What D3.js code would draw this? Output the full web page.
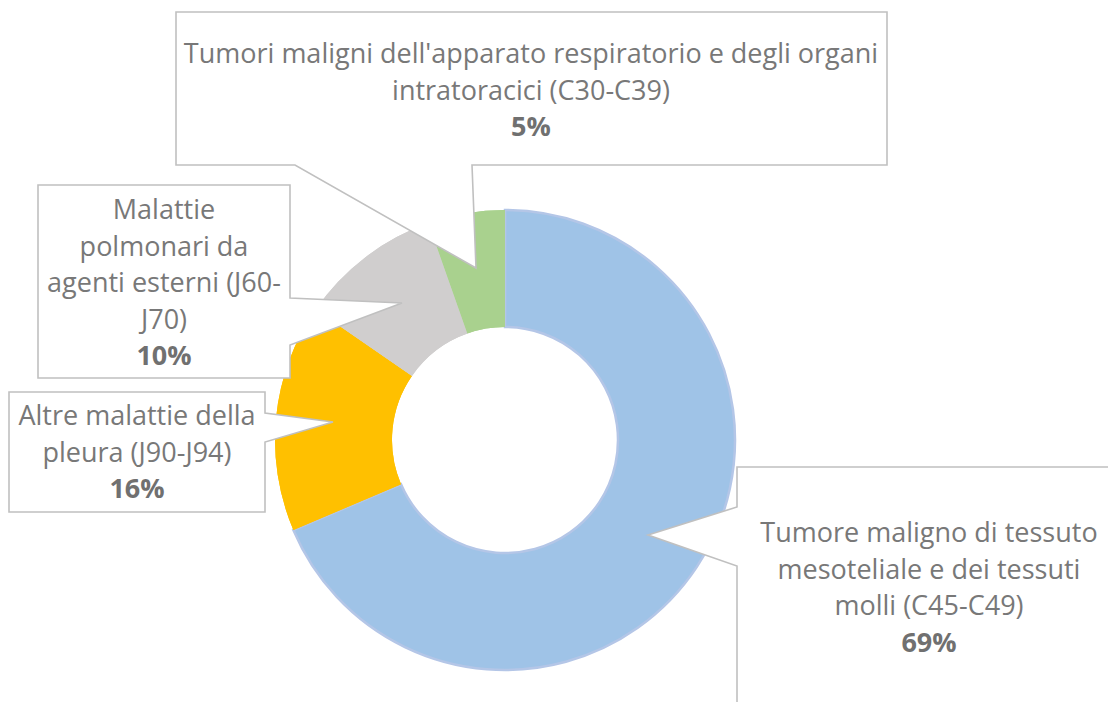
<!DOCTYPE html>
<html>
<head>
<meta charset="utf-8">
<script src="https://cdn.jsdelivr.net/npm/d3@7"></script>
<style>
  html, body { margin: 0; padding: 0; background: #ffffff; }
  svg { display: block; }
  text { font-family: "Open Sans", "Noto Sans", sans-serif; }
</style>
</head>
<body>
<svg id="chart" width="1108" height="702"></svg>
<script>
// ---- data ----
const categories = [
  "Tumore maligno di tessuto mesoteliale e dei tessuti molli (C45-C49)",
  "Altre malattie della pleura (J90-J94)",
  "Malattie polmonari da agenti esterni (J60-J70)",
  "Tumori maligni dell'apparato respiratorio e degli organi intratoracici (C30-C39)"
];
const values = [68.6, 16.0, 10.0, 5.4];
const colors = ["#9fc3e7", "#ffc000", "#d0cece", "#a9d18e"];
const labelLines = [
  ["Tumore maligno di tessuto", "mesoteliale e dei tessuti", "molli (C45-C49)"],
  ["Altre malattie della", "pleura (J90-J94)"],
  ["Malattie", "polmonari da", "agenti esterni (J60-", "J70)"],
  ["Tumori maligni dell'apparato respiratorio e degli organi", "intratoracici (C30-C39)"]
];

// ---- layout ----
const W = 1108, H = 702;
const cx = 505, cy = 440, rOuter = 230, rInner = 113;
const fontSize = 27, lineGap = 36.6;
const textColor = "#787878", boxStroke = "#c0c0c0";

// callout boxes: rect + pointer tip (pointer base on a given side)
const callouts = [
  { x0: 737, y0: 467, x1: 1122, y1: 716, side: "left",  b0: 507, b1: 566, tip: [648, 535], tx: 929, ty: 542 },
  { x0: 9,   y0: 392, x1: 265,  y1: 512, side: "right", b0: 413, b1: 442, tip: [333, 422], tx: 137, ty: 425 },
  { x0: 38,  y0: 185, x1: 290,  y1: 378, side: "right", b0: 298, b1: 345, tip: [402, 303], tx: 164, ty: 219 },
  { x0: 176, y0: 12,  x1: 887,  y1: 165, side: "bottom", b0: 472, b1: 295, tip: [476, 268], tx: 531, ty: 63 }
];

const svg = d3.select("#chart");
const g = svg.append("g").attr("transform", `translate(${cx},${cy})`);

const pie = d3.pie().sort(null).value(d => d)(values);
const arc = d3.arc().innerRadius(rInner).outerRadius(rOuter);

g.selectAll("path.slice")
  .data(pie)
  .join("path")
  .attr("class", "slice")
  .attr("d", arc)
  .attr("fill", (d, i) => colors[i])
  .attr("stroke", (d, i) => i === 0 ? "#b4c6e7" : "none")
  .attr("stroke-width", 2.5);

// redraw non-blue slices on top so blue border only shows on arcs
g.selectAll("path.slice2")
  .data(pie.slice(1))
  .join("path")
  .attr("class", "slice2")
  .attr("d", arc)
  .attr("fill", (d, i) => colors[i + 1]);

// callouts
function calloutPath(c) {
  const p = d3.path();
  if (c.side === "left") {
    p.moveTo(c.x0, c.y0); p.lineTo(c.x1, c.y0); p.lineTo(c.x1, c.y1); p.lineTo(c.x0, c.y1);
    p.lineTo(c.x0, c.b1); p.lineTo(c.tip[0], c.tip[1]); p.lineTo(c.x0, c.b0); p.closePath();
  } else if (c.side === "right") {
    p.moveTo(c.x0, c.y0); p.lineTo(c.x1, c.y0); p.lineTo(c.x1, c.b0); p.lineTo(c.tip[0], c.tip[1]);
    p.lineTo(c.x1, c.b1); p.lineTo(c.x1, c.y1); p.lineTo(c.x0, c.y1); p.closePath();
  } else {
    p.moveTo(c.x0, c.y0); p.lineTo(c.x1, c.y0); p.lineTo(c.x1, c.y1); p.lineTo(c.b0, c.y1);
    p.lineTo(c.tip[0], c.tip[1]); p.lineTo(c.b1, c.y1); p.lineTo(c.x0, c.y1); p.closePath();
  }
  return p.toString();
}

const total = d3.sum(values);
const fmt = v => d3.format(".0f")(v / total * 100) + "%";

callouts.forEach((c, i) => {
  svg.append("path")
    .attr("d", calloutPath(c))
    .attr("fill", "#ffffff")
    .attr("stroke", boxStroke)
    .attr("stroke-width", 1.6)
    .attr("stroke-linejoin", "miter");

  const t = svg.append("text")
    .attr("text-anchor", "middle")
    .attr("font-size", fontSize)
    .attr("fill", textColor);
  const lines = labelLines[i];
  lines.forEach((ln, k) => {
    t.append("tspan").attr("x", c.tx).attr("y", c.ty + k * lineGap).text(ln);
  });
  t.append("tspan")
    .attr("x", c.tx)
    .attr("y", c.ty + lines.length * lineGap)
    .attr("font-weight", "bold")
    .attr("fill", "#707070")
    .text(fmt(values[i]));
});
</script>
</body>
</html>
